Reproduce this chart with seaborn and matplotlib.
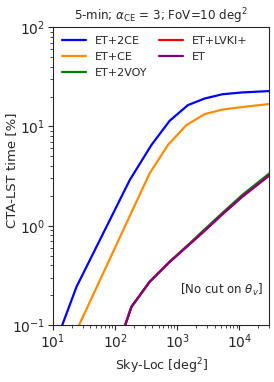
import numpy as np
import pandas as pd
import matplotlib
matplotlib.use("Agg")
import matplotlib.pyplot as plt
import seaborn as sns

# ── DATA ──────────────────────────────────────────────────────
labels = ["ET+2CE", "ET+CE", "ET+2VOY", "ET+LVKI+", "ET"]
colors = {"ET+2CE": "#0000ff", "ET+CE": "darkorange", "ET+2VOY": "green",
          "ET+LVKI+": "red", "ET": "purple"}

sky_2ce = [12, 24, 172, 384, 755, 1486, 2754, 5350, 11200, 30000]
lst_2ce = [0.076, 0.243, 2.88, 6.5, 11.4, 16.4, 19.1, 21.1, 22.0, 22.7]

sky_ce = [24, 172, 360, 708, 1400, 2754, 5350, 11200, 30000]
lst_ce = [0.088, 1.25, 3.37, 6.5, 10.3, 13.3, 14.8, 15.7, 16.8]

sky_low = [120, 183, 360, 755, 1486, 2754, 5350, 11200, 30000]
lst_2voy = [0.07, 0.153, 0.274, 0.435, 0.64, 0.92, 1.35, 2.05, 3.35]
lst_lvki = [0.07, 0.152, 0.272, 0.432, 0.63, 0.89, 1.31, 1.97, 3.2]
lst_et = [0.07, 0.152, 0.272, 0.432, 0.63, 0.89, 1.31, 1.97, 3.2]

frames = [
    pd.DataFrame({"sky": sky_2ce, "lst": lst_2ce, "net": "ET+2CE"}),
    pd.DataFrame({"sky": sky_ce, "lst": lst_ce, "net": "ET+CE"}),
    pd.DataFrame({"sky": sky_low, "lst": lst_2voy, "net": "ET+2VOY"}),
    pd.DataFrame({"sky": sky_low, "lst": lst_lvki, "net": "ET+LVKI+"}),
    pd.DataFrame({"sky": sky_low, "lst": lst_et, "net": "ET"}),
]
df = pd.concat(frames, ignore_index=True)

# ── PLOT ──────────────────────────────────────────────────────
sns.set_style("ticks")
plt.rcParams["font.family"] = ["DejaVu Sans"]

fig = plt.figure(figsize=(2.74, 3.82), dpi=100)
ax = fig.add_axes([0.193, 0.149, 0.789, 0.78])

sns.lineplot(data=df, x="sky", y="lst", hue="net", hue_order=labels,
             palette=colors, estimator=None, sort=False, lw=1.6, ax=ax)

ax.set_xscale("log")
ax.set_yscale("log")
ax.set_xlim(10, 3e4)
ax.set_ylim(0.1, 100)
ax.set_xlabel("Sky-Loc [deg$^2$]", fontsize=9)
ax.set_ylabel("CTA-LST time [%]", fontsize=9.5)
ax.yaxis.set_label_coords(-0.163, 0.52)
ax.set_title(r"5-min; $\alpha_{\rm CE}$ = 3; FoV=10 deg$^2$", fontsize=8.6, pad=5)
ax.tick_params(axis="both", which="major", labelsize=10, pad=2)
for s in ax.spines.values():
    s.set_linewidth(0.8)
    s.set_visible(True)

ax.text(0.97, 0.117, r"[No cut on $\theta_v$]", transform=ax.transAxes,
        ha="right", va="center", fontsize=8.5)

ax.legend(loc="upper left", ncol=2, frameon=False, fontsize=8,
          handlelength=2.2, columnspacing=1.0, borderaxespad=0.4,
          labelspacing=0.55)

plt.savefig("out.png", dpi=100)
